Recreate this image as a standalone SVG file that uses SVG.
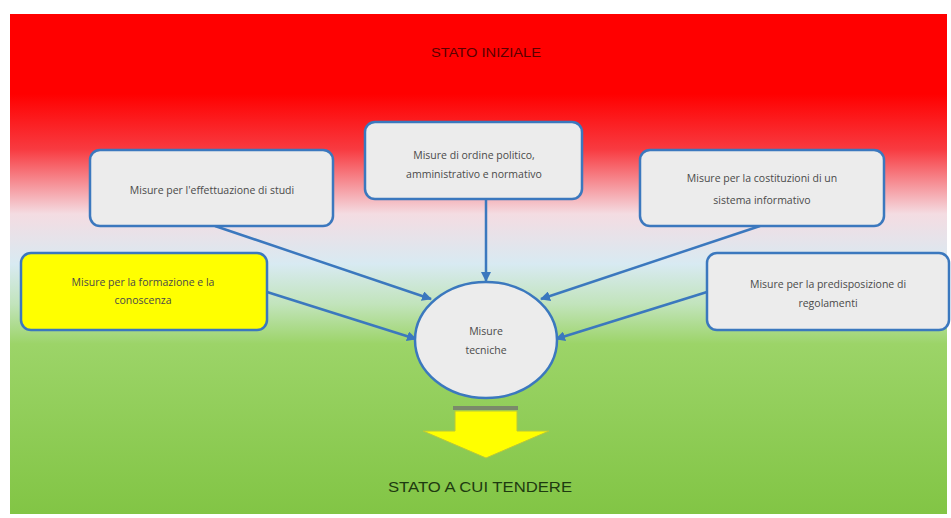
<svg xmlns="http://www.w3.org/2000/svg" width="951" height="518" viewBox="0 0 951 518">
<style>
.box{fill:#ececec;stroke:#3b78be;stroke-width:2.5}
.yel{fill:#ffff00;stroke:#3b78be;stroke-width:2.5}
.t{font-family:"Open Sans","Liberation Sans",sans-serif;font-size:10.5px;fill:#4a4a4a;text-anchor:middle}
.c{stroke:#3b78be;stroke-width:2.5;fill:none;marker-end:url(#ah)}
</style>
<defs>
<linearGradient id="bg" x1="0" y1="0" x2="0" y2="1">
<stop offset="0" stop-color="#ff0000"/>
<stop offset="0.16" stop-color="#ff0000"/>
<stop offset="0.27" stop-color="#f83a40"/>
<stop offset="0.4" stop-color="#f4dce2"/>
<stop offset="0.5" stop-color="#d8eaf2"/>
<stop offset="0.58" stop-color="#c2e4bc"/>
<stop offset="0.66" stop-color="#9cd468"/>
<stop offset="1" stop-color="#82c545"/>
</linearGradient>
<marker id="ah" viewBox="0 0 10 10" refX="9" refY="5" markerWidth="4" markerHeight="4" orient="auto">
<path d="M0,0 L10,5 L0,10 z" fill="#3b78be"/>
</marker>
</defs>
<rect width="951" height="518" fill="#ffffff"/>
<rect x="10" y="14" width="937" height="500" fill="url(#bg)"/>
<text x="486" y="57" font-family="Liberation Sans Narrow,Liberation Sans,sans-serif" font-size="12" fill="#5a0000" text-anchor="middle" textLength="110" lengthAdjust="spacingAndGlyphs">STATO INIZIALE</text>
<g id="connectors">
<line class="c" x1="215" y1="226" x2="431" y2="299"/>
<line class="c" x1="486" y1="199" x2="486" y2="281"/>
<line class="c" x1="760" y1="226" x2="541" y2="299"/>
<line class="c" x1="267" y1="292" x2="416" y2="339"/>
<line class="c" x1="707" y1="292" x2="556" y2="339"/>
</g>
<g id="n1">
<rect class="box" x="90" y="150" width="243" height="76" rx="10"/>
<text class="t" x="212" y="194">Misure per l'effettuazione  di studi</text>
</g>
<g id="n2">
<rect class="box" x="365" y="122" width="217" height="77" rx="10"/>
<text class="t" x="474" y="159">Misure di ordine politico,</text>
<text class="t" x="474" y="178">amministrativo e normativo</text>
</g>
<g id="n3">
<rect class="box" x="640" y="150" width="244" height="76" rx="10"/>
<text class="t" x="762" y="182">Misure per la costituzioni di un</text>
<text class="t" x="762" y="204">sistema informativo</text>
</g>
<g id="n4">
<rect class="yel" x="21" y="253" width="246" height="77" rx="10"/>
<text class="t" x="143" y="286" fill="#333">Misure per la formazione e la</text>
<text class="t" x="143" y="304">conoscenza</text>
</g>
<g id="n5">
<rect class="box" x="707" y="253" width="242" height="77" rx="10"/>
<text class="t" x="828" y="288">Misure per la predisposizione  di</text>
<text class="t" x="828" y="307">regolamenti</text>
</g>
<g id="n6">
<ellipse cx="486" cy="340" rx="71" ry="58" fill="#ececec" stroke="#3b78be" stroke-width="2.5"/>
<text class="t" x="486" y="335">Misure</text>
<text class="t" x="486" y="354">tecniche</text>
</g>
<g id="arrow">
<rect x="453" y="406" width="65" height="4" fill="#7a8a6a"/>
<path d="M455,411 L517,411 L517,431 L549,431 L486,458 L423,431 L455,431 z" fill="#ffff00" stroke="#b8c83a" stroke-width="1"/>
</g>
<text x="480" y="492" font-family="Liberation Sans Narrow,Liberation Sans,sans-serif" font-size="15" fill="#1e3a10" text-anchor="middle" textLength="184" lengthAdjust="spacingAndGlyphs">STATO A CUI TENDERE</text>
</svg>
